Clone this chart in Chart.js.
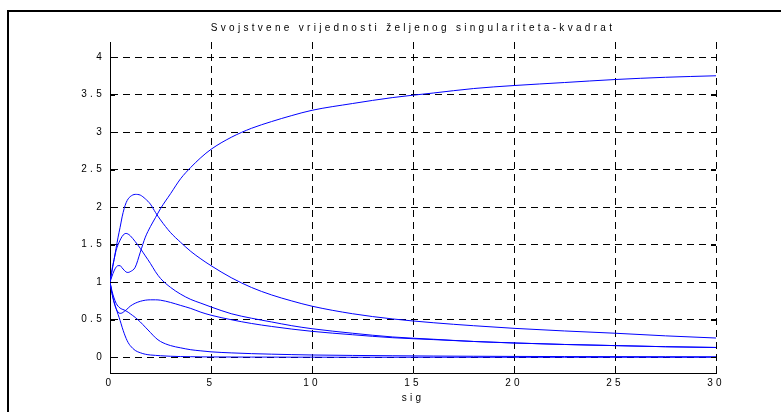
<!DOCTYPE html>
<html>
<head>
<meta charset="utf-8">
<script src="https://cdn.jsdelivr.net/npm/chart.js@4/dist/chart.umd.min.js"></script>
<style>
  html, body { margin: 0; padding: 0; background: #fff; }
  #wrap { width: 781px; height: 412px; }
</style>
</head>
<body>
<div id="wrap"><canvas id="chEig"></canvas></div>
<script>
// sig values shared by all curves
const sig = [0, 0.1, 0.2, 0.3, 0.4, 0.5, 0.6, 0.7, 0.8, 0.9, 1, 1.25, 1.5, 1.75, 2, 2.25, 2.5, 3, 3.5, 4, 4.5, 5, 6, 7, 8, 9, 10, 12, 14, 16, 18, 20, 22.5, 25, 27.5, 30];

// eigenvalues
const lam1 = [1, 1.08, 1.15, 1.2, 1.22, 1.22, 1.19, 1.16, 1.135, 1.13, 1.14, 1.2, 1.4, 1.6, 1.74, 1.86, 1.98, 2.18, 2.38, 2.53, 2.66, 2.77, 2.93, 3.05, 3.14, 3.22, 3.29, 3.38, 3.46, 3.52, 3.58, 3.62, 3.66, 3.7, 3.73, 3.75];
const lam2 = [1, 1.15, 1.3, 1.45, 1.6, 1.73, 1.87, 1.98, 2.06, 2.11, 2.14, 2.17, 2.16, 2.11, 2.04, 1.93, 1.83, 1.66, 1.53, 1.41, 1.31, 1.22, 1.06, 0.93, 0.83, 0.75, 0.68, 0.58, 0.51, 0.46, 0.42, 0.385, 0.35, 0.32, 0.285, 0.256];
const lam3 = [1, 1.17, 1.3, 1.42, 1.5, 1.56, 1.61, 1.64, 1.65, 1.64, 1.62, 1.54, 1.45, 1.35, 1.25, 1.14, 1.05, 0.93, 0.84, 0.77, 0.72, 0.67, 0.58, 0.52, 0.47, 0.42, 0.38, 0.32, 0.27, 0.24, 0.21, 0.19, 0.17, 0.155, 0.14, 0.13];
const lam4 = [1, 0.85, 0.73, 0.65, 0.6, 0.585, 0.59, 0.61, 0.63, 0.655, 0.68, 0.72, 0.745, 0.76, 0.765, 0.765, 0.76, 0.73, 0.69, 0.65, 0.6, 0.56, 0.5, 0.45, 0.41, 0.375, 0.345, 0.3, 0.26, 0.235, 0.21, 0.19, 0.17, 0.155, 0.14, 0.13];
const lam5 = [1, 0.88, 0.79, 0.72, 0.68, 0.655, 0.64, 0.63, 0.615, 0.6, 0.58, 0.53, 0.47, 0.4, 0.33, 0.26, 0.21, 0.155, 0.125, 0.1, 0.085, 0.072, 0.058, 0.048, 0.041, 0.035, 0.03, 0.024, 0.02, 0.016, 0.013, 0.011, 0.009, 0.008, 0.007, 0.006];
const lam6 = [1, 0.85, 0.74, 0.65, 0.57, 0.49, 0.4, 0.32, 0.25, 0.195, 0.155, 0.09, 0.06, 0.04, 0.03, 0.025, 0.02, 0.013, 0.009, 0.007, 0.005, 0.004, 0.003, 0.002, 0.002, 0.001, 0.001, 0, 0, 0, 0, 0, 0, 0, 0, 0];

const xTicks = [0, 5, 10, 15, 20, 25, 30];
const yTicks = [0, 0.5, 1, 1.5, 2, 2.5, 3, 3.5, 4];

const FONT = '"Liberation Sans", Arial, Helvetica, sans-serif';

function toPoints(vals) {
	return sig.map(function (s, i) { return { x: s, y: vals[i] }; });
}

// MATLAB look: spaced text, outer frame, inward tick marks
const matlabLook = {
	id: 'matlabLook',
	beforeDraw: function (chart) {
		const ctx = chart.ctx;
		ctx.letterSpacing = '3.3px';
		ctx.save();
		ctx.fillStyle = '#000';
		ctx.fillRect(7, 10, 774, 2);
		ctx.fillRect(7, 10, 2, 402);
		ctx.restore();
	},
	afterDraw: function (chart) {
		const ctx = chart.ctx;
		const a = chart.chartArea;
		const sx = chart.scales.x, sy = chart.scales.y;
		ctx.save();
		ctx.strokeStyle = '#000';
		ctx.lineWidth = 1;
		ctx.beginPath();
		yTicks.forEach(function (v) {
			const p = Math.round(sy.getPixelForValue(v)) + 0.5;
			ctx.moveTo(a.left, p); ctx.lineTo(a.left + 5, p);
			ctx.moveTo(a.right, p); ctx.lineTo(a.right - 5, p);
		});
		xTicks.forEach(function (v) {
			const p = Math.round(sx.getPixelForValue(v)) + 0.5;
			ctx.moveTo(p, a.bottom); ctx.lineTo(p, a.bottom - 5);
			ctx.moveTo(p, a.top); ctx.lineTo(p, a.top + 5);
		});
		ctx.stroke();
		ctx.restore();
	}
};

function makeSet(vals) {
	return {
		data: toPoints(vals),
		borderColor: '#0000ff',
		borderWidth: 1,
		pointRadius: 0,
		fill: false,
		cubicInterpolationMode: 'monotone'
	};
}

new Chart(document.getElementById('chEig'), {
	type: 'line',
	data: {
		datasets: [makeSet(lam1), makeSet(lam2), makeSet(lam3), makeSet(lam4), makeSet(lam5), makeSet(lam6)]
	},
	options: {
		responsive: true,
		maintainAspectRatio: false,
		animation: false,
		layout: { padding: { left: 0, right: 65, top: 0, bottom: 0 } },
		plugins: {
			legend: { display: false },
			tooltip: { enabled: false },
			title: {
				display: true,
				fullSize: false, //centre it over the axes, not the whole figure
				text: 'Svojstvene vrijednosti željenog singulariteta-kvadrat',
				color: '#000',
				font: { family: FONT, size: 10, weight: 'normal' },
				padding: { top: 22, bottom: 8 }
			}
		},
		scales: {
			x: {
				type: 'linear',
				min: 0,
				max: 30,
				afterBuildTicks: function (scale) { scale.ticks = xTicks.map(function (v) { return { value: v }; }); },
				afterFit: function (scale) { scale.height = 39; },
				grid: { color: '#000', lineWidth: 1, drawTicks: false },
				border: { display: true, color: '#000', width: 1, dash: [7, 5] },
				ticks: { color: '#000', padding: 4, maxRotation: 0, font: { family: FONT, size: 10 }, callback: function (v) { return String(v); } },
				title: { display: true, text: 'sig', color: '#000', font: { family: FONT, size: 10 }, padding: { top: 0, bottom: 8 } }
			},
			y: {
				type: 'linear',
				min: -0.21,
				max: 4.2,
				afterBuildTicks: function (scale) { scale.ticks = yTicks.map(function (v) { return { value: v }; }); },
				afterFit: function (scale) { scale.width = 110; },
				grid: { color: '#000', lineWidth: 1, drawTicks: false },
				border: { display: true, color: '#000', width: 1, dash: [7, 5] },
				ticks: { color: '#000', padding: 5, font: { family: FONT, size: 10 }, callback: function (v) { return String(v); } }
			}
		}
	},
	plugins: [matlabLook]
});
</script>
</body>
</html>
